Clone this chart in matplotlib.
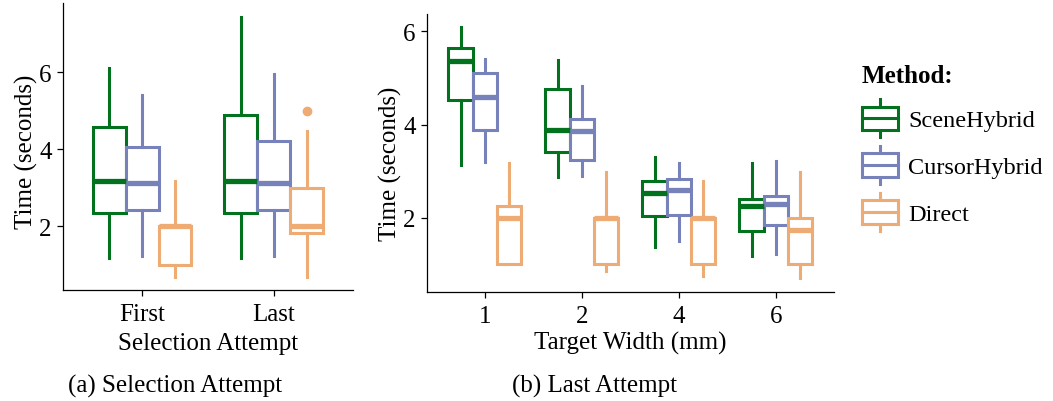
import matplotlib
matplotlib.use("Agg")
import matplotlib.pyplot as plt
import numpy as np
from matplotlib.legend_handler import HandlerBase
from matplotlib.lines import Line2D
from matplotlib.patches import Rectangle

plt.rcParams["font.family"] = ["Liberation Serif", "DejaVu Serif"]

METHODS = ["SceneHybrid", "CursorHybrid", "Direct"]
COLORS = ["#03721F", "#7682B9", "#EEAB73"]

# (a) selection attempt -- rows: method, cols: attempt
ATTEMPTS = ["First", "Last"]
A_LOW = [[1.19, 1.19], [1.24, 1.24], [0.70, 0.70]]
A_Q1 = [[2.36, 2.36], [2.43, 2.43], [1.00, 1.82]]
A_MED = [[3.17, 3.17], [3.13, 3.13], [2.00, 2.00]]
A_Q3 = [[4.59, 4.90], [4.07, 4.23], [2.00, 3.00]]
A_HIGH = [[6.11, 7.45], [5.42, 5.96], [3.19, 4.47]]
A_OUT = [[[], []], [[], []], [[], [5.0]]]

# (b) last attempt by target width -- rows: method, cols: width
WIDTHS = ["1", "2", "4", "6"]
B_LOW = [[3.14, 2.87, 1.37, 1.18], [3.20, 2.90, 1.50, 1.23], [1.00, 0.85, 0.75, 0.70]]
B_Q1 = [[4.53, 3.42, 2.05, 1.71], [3.89, 3.24, 2.06, 1.84], [1.00, 1.00, 1.00, 1.00]]
B_MED = [[5.36, 3.89, 2.54, 2.25], [4.59, 3.86, 2.59, 2.30], [2.00, 2.00, 2.00, 1.75]]
B_Q3 = [[5.64, 4.76, 2.79, 2.41], [5.11, 4.11, 2.84, 2.47], [2.26, 2.00, 2.00, 2.00]]
B_HIGH = [[6.09, 5.39, 3.30, 3.17], [5.41, 4.82, 3.18, 3.21], [3.17, 2.99, 2.80, 2.99]]
B_OUT = [[[], [], [], []], [[], [], [], []], [[], [], [], []]]

LW = 2.2


def draw_panel(ax, cats, low, q1, med, q3, high, out):
    n = len(cats)
    for m, color in enumerate(COLORS):
        stats = []
        for i in range(n):
            stats.append({"whislo": low[m][i], "q1": q1[m][i], "med": med[m][i],
                          "q3": q3[m][i], "whishi": high[m][i], "fliers": out[m][i]})
        pos = np.arange(1, n + 1) + (m - 1) * 0.25
        ax.bxp(stats, positions=pos, widths=0.25, patch_artist=True, showcaps=False,
               manage_ticks=False,
               boxprops=dict(facecolor="white", edgecolor=color, linewidth=LW),
               whiskerprops=dict(color=color, linewidth=LW),
               medianprops=dict(color=color, linewidth=3.8, solid_capstyle="butt"),
               flierprops=dict(marker="o", markerfacecolor=color, markeredgecolor=color,
                               markersize=6))
    ax.set_xlim(0.4, n + 0.6)
    ax.set_xticks(np.arange(1, n + 1))
    ax.set_xticklabels(cats)
    ax.set_yticks([2, 4, 6])
    ax.spines["top"].set_visible(False)
    ax.spines["right"].set_visible(False)
    for s in ("left", "bottom"):
        ax.spines[s].set_linewidth(0.9)
    ax.tick_params(axis="both", labelsize=18, length=4.5, width=0.9, colors="black")
    ax.tick_params(axis="x", pad=5)
    ax.tick_params(axis="y", pad=3.5)


class BoxKey(HandlerBase):
    def create_artists(self, legend, orig_handle, xdescent, ydescent, width, height,
                       fontsize, trans):
        c = orig_handle.get_color()
        x0, y0 = -xdescent, -ydescent
        lo, hi = y0 + 0.19 * height, y0 + 0.81 * height
        cx = x0 + width / 2
        mid = y0 + height / 2
        return [
            Line2D([cx, cx], [y0, lo], color=c, lw=LW, transform=trans),
            Line2D([cx, cx], [hi, y0 + height], color=c, lw=LW, transform=trans),
            Rectangle((x0, lo), width, hi - lo, facecolor="white", edgecolor=c, lw=LW,
                      transform=trans),
            Line2D([x0, x0 + width], [mid, mid], color=c, lw=LW, transform=trans),
        ]


fig = plt.figure(figsize=(10.53, 4.02), dpi=100)
ax1 = fig.add_axes([0.0598, 0.2761, 0.2754, 0.7139])
ax2 = fig.add_axes([0.4052, 0.2711, 0.3868, 0.6916])

draw_panel(ax1, ATTEMPTS, A_LOW, A_Q1, A_MED, A_Q3, A_HIGH, A_OUT)
draw_panel(ax2, WIDTHS, B_LOW, B_Q1, B_MED, B_Q3, B_HIGH, B_OUT)
ax1.set_ylim(0.35, 7.8)
ax2.set_ylim(0.41, 6.37)

ax1.set_xlabel("Selection Attempt", fontsize=18)
ax2.set_xlabel("Target Width (mm)", fontsize=18)
ax1.set_ylabel("Time (seconds)", fontsize=18)
ax2.set_ylabel("Time (seconds)", fontsize=18)
ax1.xaxis.set_label_coords(0.5, -0.146)
ax2.xaxis.set_label_coords(0.5, -0.139)
ax1.yaxis.set_label_coords(-0.085, 0.484)
ax2.yaxis.set_label_coords(-0.061, 0.464)

handles = [Line2D([], [], color=c, label=m) for m, c in zip(METHODS, COLORS)]
leg = fig.legend(handles=handles, loc="upper left", bbox_to_anchor=(0.8186, 0.838),
                 handler_map={Line2D: BoxKey()}, frameon=False, fontsize=17.5,
                 title="Method:", title_fontproperties={"weight": "bold", "size": 18},
                 alignment="left", handlelength=1.5, handleheight=2.03, labelspacing=0.36,
                 handletextpad=0.4, borderpad=0, borderaxespad=0)
# a bit more room between the title and the first key
leg._legend_box.sep = 8.8

fig.text(175.5 / 1053, 1 - 386 / 402, "(a) Selection Attempt", ha="center", va="center",
         fontsize=18)
fig.text(594 / 1053, 1 - 386 / 402, "(b) Last Attempt", ha="center", va="center",
         fontsize=18)

fig.savefig("out.png", dpi=100, facecolor="white")
